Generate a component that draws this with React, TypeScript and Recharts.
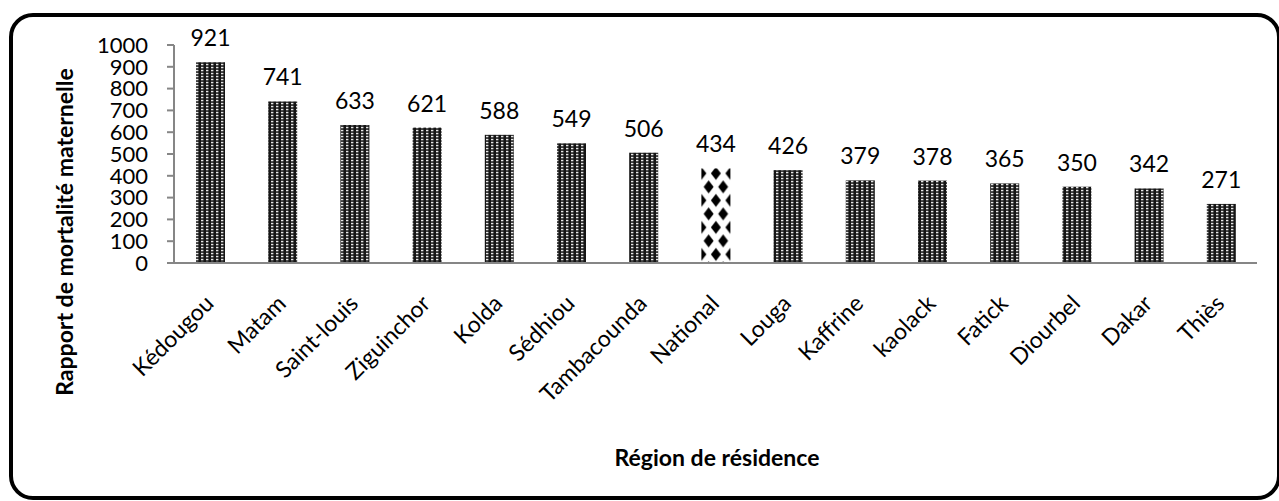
import { BarChart, Bar, XAxis, YAxis, LabelList } from 'recharts';

const regions = [
  'Kédougou', 'Matam', 'Saint-louis', 'Ziguinchor', 'Kolda', 'Sédhiou', 'Tambacounda',
  'National', 'Louga', 'Kaffrine', 'kaolack', 'Fatick', 'Diourbel', 'Dakar', 'Thiès',
];
const ratios = [921, 741, 633, 621, 588, 549, 506, 434, 426, 379, 378, 365, 350, 342, 271];
const yTicks = [0, 100, 200, 300, 400, 500, 600, 700, 800, 900, 1000];

const data = regions.map((name, i) => ({ name, value: ratios[i] }));

const FONT = 'Lato, "Open Sans", sans-serif';

// bars: dotted fill, the national bar gets its own diamond pattern
const BarShape = (props: any) => {
  const { x, y, width, height, payload } = props;
  if (payload.name === 'National') {
    const w = width / 2;
    const h = 27;
    const d = (cx: number, cy: number) =>
      `M${cx - 5},${cy} L${cx},${cy - 6.5} L${cx + 5},${cy} L${cx},${cy + 6.5} Z`;
    return (
      <g>
        <defs>
          <pattern id="diamonds" patternUnits="userSpaceOnUse" x={x} y={y + 5} width={w} height={h}>
            <rect x={0} y={0} width={w} height={h} fill="#fff" />
            <path d={d(0, 0) + d(w, 0) + d(0, h) + d(w, h) + d(w / 2, h / 2)} fill="#000" />
          </pattern>
        </defs>
        <rect x={x} y={y} width={width} height={height} fill="url(#diamonds)" />
      </g>
    );
  }
  return <rect x={x} y={y} width={width} height={height} fill="url(#dots)" />;
};

const RegionTick = (props: any) => {
  const { x, y, payload } = props;
  const ax = x + 5;
  return (
    <text
      x={ax}
      y={y}
      transform={`rotate(-45, ${ax}, ${y})`}
      textAnchor="end"
      fontSize={23}
      fontFamily={FONT}
      fill="#000"
    >
      {payload.value}
    </text>
  );
};

export default function App() {
  return (
    <div style={{ position: 'absolute', left: 0, top: 0, width: 1279, height: 501, background: '#fff', fontFamily: FONT }}>
      <svg width={0} height={0} style={{ position: 'absolute' }}>
        <defs>
          <pattern id="dots" patternUnits="userSpaceOnUse" width={5} height={3}>
            <rect x={0} y={0} width={5} height={3} fill="#151515" />
            <rect x={1} y={0.8} width={2.4} height={1.5} fill="#e6e6e6" />
          </pattern>
        </defs>
      </svg>
      <div
        style={{
          position: 'absolute', left: 9, top: 13, width: 1272, height: 487,
          border: '4.5px solid #000', borderRadius: 24, boxSizing: 'border-box',
        }}
      />
      <div style={{ position: 'absolute', left: 0, top: 0 }}>
        <BarChart width={1279} height={501} data={data} margin={{ top: 45, right: 22, bottom: 118, left: 60 }}>
          <XAxis
            dataKey="name"
            interval={0}
            height={120}
            tickLine={false}
            tickSize={0}
            tickMargin={42}
            tick={<RegionTick />}
            axisLine={{ stroke: '#868686', strokeWidth: 2 }}
          />
          <YAxis
            domain={[0, 1000]}
            ticks={yTicks}
            interval={0}
            width={114}
            tickSize={7}
            tickMargin={19}
            axisLine={{ stroke: '#868686', strokeWidth: 2 }}
            tickLine={{ stroke: '#868686', strokeWidth: 2 }}
            tick={{ fill: '#000', fontSize: 22, fontFamily: FONT }}
          />
          <Bar dataKey="value" barSize={29} shape={<BarShape />} isAnimationActive={false}>
            <LabelList dataKey="value" position="top" offset={16} fill="#000" fontSize={23} fontFamily={FONT} />
          </Bar>
        </BarChart>
      </div>
      <div
        style={{
          position: 'absolute', left: 64, top: 232, transform: 'translate(-50%, -50%) rotate(-90deg)',
          whiteSpace: 'nowrap', fontWeight: 700, fontSize: 23, lineHeight: 1,
        }}
      >
        Rapport de mortalité maternelle
      </div>
      <div
        style={{
          position: 'absolute', left: 717, top: 457, transform: 'translate(-50%, -50%)',
          whiteSpace: 'nowrap', fontWeight: 700, fontSize: 23, lineHeight: 1,
        }}
      >
        Région de résidence
      </div>
    </div>
  );
}
